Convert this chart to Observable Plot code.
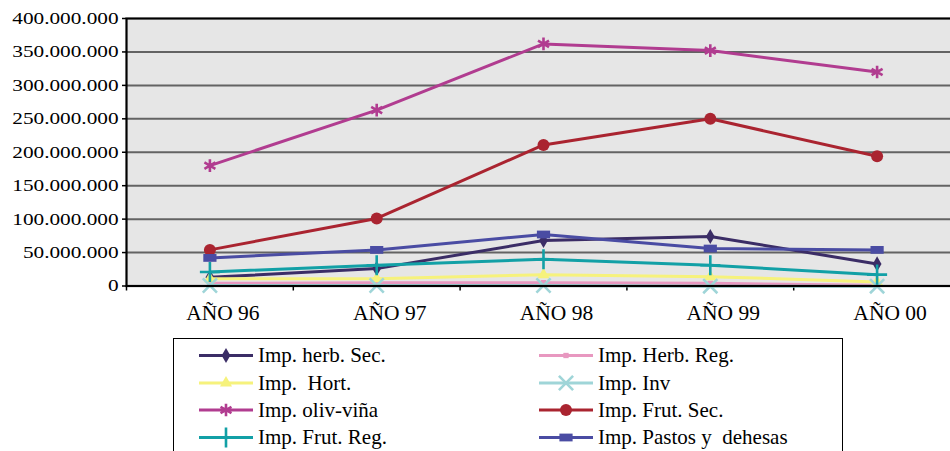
<!DOCTYPE html>
<html><head><meta charset="utf-8">
<script src="https://cdn.jsdelivr.net/npm/d3@7"></script>
<script src="https://cdn.jsdelivr.net/npm/@observablehq/plot@0.6"></script>
<style>
html,body{margin:0;padding:0;background:#fff;overflow:hidden;width:950px;height:451px;}
#wrap{position:relative;width:950px;height:451px;overflow:hidden;}
#chart{position:absolute;left:0;top:0;width:960px;}
#chart svg{max-width:none !important;}
#legend{position:absolute;left:0;top:0;pointer-events:none;}
svg text{font-family:"Liberation Serif","Times New Roman",serif !important;}
</style></head><body>
<div id="wrap"><div id="chart"></div><svg id="legend" width="950" height="451"></svg></div>
<script>
// ---- data ----
const years = ["AÑO 96", "AÑO 97", "AÑO 98", "AÑO 99", "AÑO 00"];
const seriesNames = ["Imp. herb. Sec.", "Imp. Herb. Reg.", "Imp.  Hort.", "Imp. Inv",
  "Imp. oliv-viña", "Imp. Frut. Sec.", "Imp. Frut. Reg.", "Imp. Pastos y  dehesas"];
const herbSec  = [13e6, 26e6, 68e6, 74e6, 33e6];
const herbReg  = [4e6, 5e6, 5e6, 4e6, 1e6];
const hort     = [11e6, 11e6, 17e6, 14e6, 6e6];
const inv      = [0.8e6, 0.8e6, 0.8e6, -0.3e6, -0.3e6];
const olivVina = [180e6, 263e6, 362e6, 352e6, 320e6];
const frutSec  = [54e6, 101e6, 211e6, 250e6, 194e6];
const frutReg  = [21e6, 31e6, 40e6, 31e6, 17e6];
const pastos   = [42e6, 54e6, 77e6, 56e6, 54e6];
const yTicks = [0, 50e6, 100e6, 150e6, 200e6, 250e6, 300e6, 350e6, 400e6];

// ---- styles ----
const FONT = '"Liberation Serif", "Times New Roman", serif';
const rectSymbol = {draw(ctx, size) { const r = Math.sqrt(size / Math.PI); ctx.rect(-r * 1.1, -r * 0.65, r * 2.2, r * 1.3); }};
const styles = [
  {color: "#3b2d66", symbol: "diamond", filled: true, r: 4.6},
  {color: "#e898c0", symbol: "square", filled: true, r: 3},
  {color: "#f6f27c", symbol: "triangle", filled: true, r: 4.5},
  {color: "#9fd5d8", symbol: "times", filled: false, r: 6.5},
  {color: "#b13c90", symbol: "asterisk", filled: false, r: 6},
  {color: "#aa2430", symbol: "circle", filled: true, r: 6},
  {color: "#12a0a6", symbol: "plus", filled: false, r: 6.5},
  {color: "#4a4ca3", symbol: rectSymbol, filled: true, r: 6}
];
const seriesValues = [herbSec, herbReg, hort, inv, olivVina, frutSec, frutReg, pastos];

const rows = seriesNames.flatMap((name, s) => years.map((yr, i) => ({name, s, x: i + 0.5, value: seriesValues[s][i]})));
const fmt = d => d3.format(",")(d).replace(/,/g, ".");

const seriesMarks = seriesNames.flatMap((name, s) => {
  const st = styles[s];
  const data = rows.filter(r => r.s === s);
  return [
    Plot.line(data, {x: "x", y: "value", stroke: st.color, strokeWidth: 3}),
    Plot.dot(data, {x: "x", y: "value", symbol: () => st.symbol, r: st.r,
      fill: st.filled ? st.color : "none", stroke: st.filled ? "none" : st.color, strokeWidth: st.filled ? 0 : 2.6})
  ];
});

const chart = Plot.plot({
  width: 960, height: 330,
  marginLeft: 126, marginRight: 0, marginTop: 18, marginBottom: 44.5,
  style: {fontFamily: FONT, color: "#000", background: "transparent", maxWidth: "none"},
  x: {type: "linear", domain: [0, 5], range: [126, 960]},
  y: {domain: [0, 400e6], range: [285.5, 18]},
  symbol: {type: "identity"},
  marks: [
    Plot.frame({fill: "#e6e6e6"}),
    Plot.ruleY(yTicks.slice(1, -1), {stroke: "#636363", strokeWidth: 2}),
    Plot.axisY({ticks: yTicks, tickFormat: fmt, tickSize: 4, tickPadding: 4, fontSize: 17, label: null, strokeWidth: 1.5}),
    Plot.axisX({ticks: d3.range(0, 6), tickSize: 5, tickFormat: () => "", label: null, strokeWidth: 1.5}),
    Plot.axisX({ticks: years.map((d, i) => i + 0.5), tickSize: 0, tickPadding: 19, tickFormat: d => years[Math.floor(d)], fontSize: 21.5, dx: 13, label: null}),
    ...seriesMarks,
    Plot.frame({stroke: "#000", strokeWidth: 2.2})
  ]
});
document.getElementById("chart").appendChild(chart);
// the reference's value labels are horizontally widened
chart.querySelectorAll('g[aria-label="y-axis tick label"] text').forEach(t => {
  const len = t.getComputedTextLength();
  t.setAttribute("textLength", len * 1.25);
  t.setAttribute("lengthAdjust", "spacingAndGlyphs");
});

// ---- legend ----
const leg = d3.select("#legend");
leg.append("rect").attr("x", 173.5).attr("y", 338.5).attr("width", 669).attr("height", 200)
  .attr("fill", "#fff").attr("stroke", "#000").attr("stroke-width", 1);
const rowY = [355.5, 383, 410, 437.5];
const colX = [199, 539];
seriesNames.forEach((name, s) => {
  const st = styles[s];
  const cx = colX[s % 2], cy = rowY[Math.floor(s / 2)];
  const g = leg.append("g");
  g.append("line").attr("x1", cx).attr("x2", cx + 54).attr("y1", cy).attr("y2", cy)
    .attr("stroke", st.color).attr("stroke-width", 3);
  const symType = typeof st.symbol === "string" ? {diamond: d3.symbolDiamond, square: d3.symbolSquare, triangle: d3.symbolTriangle,
    times: d3.symbolTimes, asterisk: d3.symbolAsterisk, circle: d3.symbolCircle, plus: d3.symbolPlus}[st.symbol] : st.symbol;
  g.append("path").attr("d", d3.symbol(symType, st.r * st.r * Math.PI)())
    .attr("transform", `translate(${cx + 27},${cy})`)
    .attr("fill", st.filled ? st.color : "none").attr("stroke", st.filled ? "none" : st.color).attr("stroke-width", st.filled ? 0 : 2.6);
  g.append("text").attr("x", cx + 59).attr("y", cy + 6.5).attr("font-size", 21)
    .attr("fill", "#000").attr("xml:space", "preserve").style("white-space", "pre").text(name);
});
</script></body></html>
